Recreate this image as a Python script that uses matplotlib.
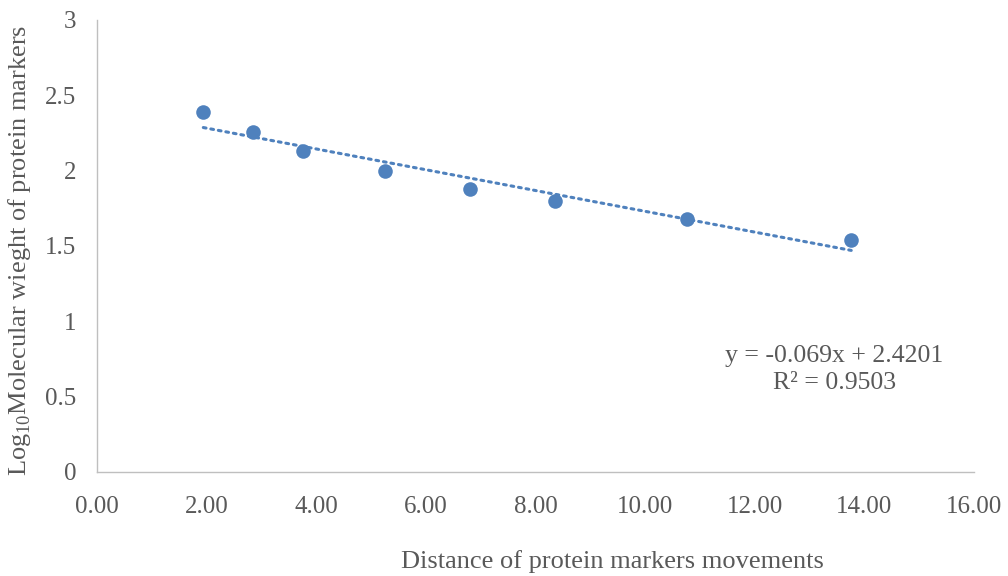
import numpy as np
import matplotlib
matplotlib.use("Agg")
import matplotlib.pyplot as plt

# data
distance = [1.94, 2.85, 3.75, 5.26, 6.81, 8.35, 10.76, 13.76]
log_mw = [2.391, 2.258, 2.130, 1.997, 1.878, 1.798, 1.677, 1.539]
slope = -0.069
intercept = 2.4201
r_squared = 0.9503
x_ticks = [0, 2, 4, 6, 8, 10, 12, 14, 16]
y_ticks = [0, 0.5, 1, 1.5, 2, 2.5, 3]

plt.rcParams['font.family'] = ['Liberation Serif', 'DejaVu Serif']
plt.rcParams['mathtext.fontset'] = 'custom'
plt.rcParams['mathtext.rm'] = 'Liberation Serif'

text_col = '#595959'
axis_col = '#BFBFBF'
blue = '#4F81BD'

fig = plt.figure(figsize=(10.08, 5.76), dpi=100)
ax = fig.add_axes([0.0962, 0.1806, 0.8701, 0.7847])

ax.scatter(distance, log_mw, s=110, color=blue, zorder=3, linewidths=0)

# linear trendline over the data range
xs = np.array([min(distance), max(distance)])
ax.plot(xs, slope * xs + intercept, color=blue, lw=2.2,
        linestyle=(0, (0.9, 1.6)), dash_capstyle='round', zorder=2)

ax.set_xlim(0, 16)
ax.set_ylim(0, 3)
ax.set_xticks(x_ticks)
ax.set_xticklabels([f"{v:.2f}" for v in x_ticks])
ax.set_yticks(y_ticks)
ax.set_yticklabels([f"{v:g}" for v in y_ticks])
ax.tick_params(length=0, labelsize=18, colors=text_col)
ax.tick_params(axis='x', pad=17)
ax.tick_params(axis='y', pad=15)

for side in ['top', 'right']:
    ax.spines[side].set_visible(False)
for side in ['left', 'bottom']:
    ax.spines[side].set_color(axis_col)
    ax.spines[side].set_linewidth(1.0)

fig.text(0.608, 0.026, 'Distance of protein markers movements',
         ha='center', va='center', fontsize=19, color=text_col)
fig.text(0.019, 0.566, r'Log$_{\mathregular{10}}$Molecular wieght of protein markers',
         ha='center', va='center', rotation=90, fontsize=19, color=text_col)

ax.text(0.828, 0.359, f"y = {slope}x + {intercept}\nR² = {r_squared}",
        transform=fig.transFigure, ha='center', va='center',
        fontsize=18.5, color=text_col, linespacing=1.3)

fig.savefig('out.png', dpi=100)
